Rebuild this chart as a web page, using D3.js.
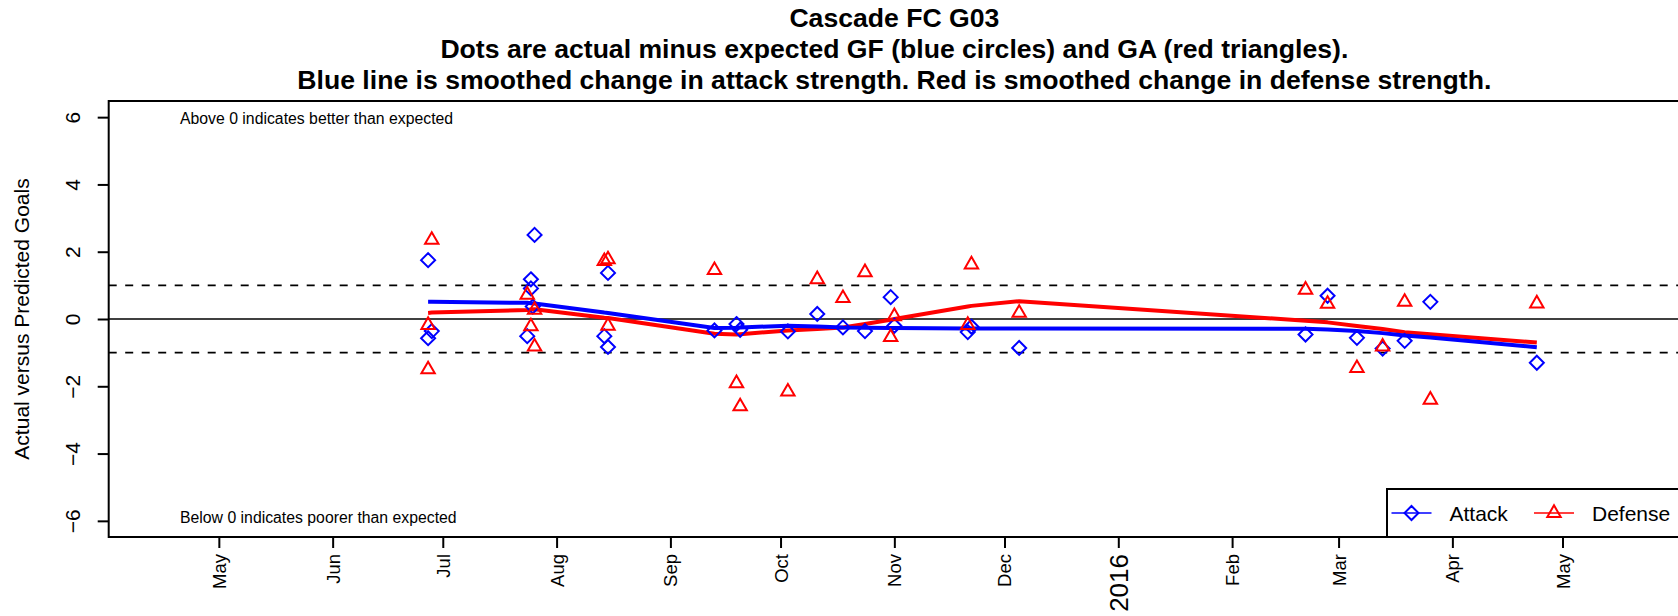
<!DOCTYPE html>
<html>
<head>
<meta charset="utf-8">
<script src="https://cdn.jsdelivr.net/npm/d3@7"></script>
<style>
  html, body { margin: 0; padding: 0; background: #fff; }
  svg { display: block; }
  text { font-family: "Liberation Sans", Arial, Helvetica, sans-serif; }
</style>
</head>
<body>
<svg id="chart" width="1678" height="616"></svg>
<script>
// ---------------- DATA ----------------
const titleLines = [
  "Cascade FC G03",
  "Dots are actual minus expected GF (blue circles) and GA (red triangles).",
  "Blue line is smoothed change in attack strength. Red is smoothed change in defense strength."
];
const yLabel = "Actual versus Predicted Goals";
const yTicks = [-6, -4, -2, 0, 2, 4, 6];
const xLimits = ["2015-04-01", "2016-06-02"];
const monthTicks = ["2015-05-01","2015-06-01","2015-07-01","2015-08-01","2015-09-01","2015-10-01",
  "2015-11-01","2015-12-01","2016-01-01","2016-02-01","2016-03-01","2016-04-01","2016-05-01"];
const monthLabels = ["May","Jun","Jul","Aug","Sep","Oct","Nov","Dec","2016","Feb","Mar","Apr","May"];

// attack points (actual minus expected GF)
const attackDates = ["2015-06-27","2015-06-27","2015-06-28","2015-07-24","2015-07-25","2015-07-25",
  "2015-07-25T12:00","2015-07-26","2015-08-14","2015-08-15","2015-08-15","2015-09-13","2015-09-19",
  "2015-09-20","2015-10-03","2015-10-11","2015-10-18","2015-10-24","2015-10-31","2015-11-01",
  "2015-11-21","2015-11-22","2015-12-05","2016-02-21","2016-02-27","2016-03-06","2016-03-13",
  "2016-03-19","2016-03-26","2016-04-24"];
const attackValues = [1.75,-0.57,-0.36,-0.51,1.18,0.91,0.37,2.50,-0.51,1.37,-0.83,-0.34,-0.15,
  -0.32,-0.37,0.15,-0.25,-0.36,0.65,-0.20,-0.39,-0.23,-0.86,-0.46,0.69,-0.56,-0.88,-0.65,0.51,-1.30];

// defense points (actual minus expected GA)
const defenseDates = ["2015-06-27","2015-06-27","2015-06-28","2015-07-24","2015-07-25","2015-07-26",
  "2015-07-26","2015-08-14","2015-08-15","2015-08-15","2015-09-13","2015-09-19","2015-09-20",
  "2015-10-03","2015-10-11","2015-10-18","2015-10-24","2015-10-31","2015-11-01","2015-11-21",
  "2015-11-22","2015-12-05","2016-02-21","2016-02-27","2016-03-06","2016-03-13","2016-03-19",
  "2016-03-26","2016-04-24"];
const defenseValues = [-0.18,-1.50,2.35,0.72,-0.22,0.27,-0.82,1.72,1.77,-0.20,1.45,-1.91,-2.60,
  -2.16,1.18,0.62,1.39,-0.54,0.08,-0.18,1.62,0.18,0.87,0.45,-1.46,-0.82,0.51,-2.40,0.46];

// smoothed strength lines
const smoothDates = ["2015-06-27","2015-06-28","2015-07-24","2015-07-25","2015-07-26","2015-08-14",
  "2015-08-15","2015-09-13","2015-09-19","2015-09-20","2015-10-03","2015-10-11","2015-10-18",
  "2015-10-24","2015-10-31","2015-11-01","2015-11-21","2015-11-22","2015-12-05","2016-02-21",
  "2016-02-27","2016-03-06","2016-03-13","2016-03-19","2016-03-26","2016-04-24"];
const attackSmooth = [0.51,0.51,0.48,0.47,0.46,0.19,0.18,-0.27,-0.26,-0.25,-0.20,-0.22,-0.25,
  -0.26,-0.27,-0.27,-0.28,-0.28,-0.28,-0.29,-0.31,-0.36,-0.42,-0.49,-0.55,-0.84];
const defenseSmooth = [0.18,0.19,0.27,0.28,0.29,0.04,0.03,-0.44,-0.46,-0.45,-0.34,-0.30,-0.25,
  -0.15,-0.02,0.00,0.37,0.39,0.53,-0.05,-0.10,-0.21,-0.30,-0.39,-0.45,-0.70];

const refLines = [{v: 0, dash: null}, {v: 1, dash: "8,8.5"}, {v: -1, dash: "8,8.5"}];
const noteTop = "Above 0 indicates better than expected";
const noteBottom = "Below 0 indicates poorer than expected";
const legendItems = [{name: "Attack", color: "#0000FF", shape: "diamond"},
                     {name: "Defense", color: "#FF0000", shape: "triangle"}];

// ---------------- LAYOUT ----------------
const W = 1678, H = 616;
const plot = {left: 108.7, right: 1680, top: 101, bottom: 537};
const parse = s => s.length > 10 ? d3.timeParse("%Y-%m-%dT%H:%M")(s) : d3.timeParse("%Y-%m-%d")(s);

const x = d3.scaleTime().domain(xLimits.map(parse)).range([plot.left, plot.right]);
const y = d3.scaleLinear().domain([-6.48, 6.48]).range([plot.bottom, plot.top]);

const svg = d3.select("#chart");
svg.append("rect").attr("width", W).attr("height", H).attr("fill", "#fff");

// title
svg.append("g").selectAll("text").data(titleLines).join("text")
  .attr("x", (plot.left + plot.right) / 2)
  .attr("y", (d, i) => 27 + i * 31)
  .attr("text-anchor", "middle")
  .attr("font-weight", "bold")
  .attr("font-size", 26.6)
  .text(d => d);

// clip
svg.append("clipPath").attr("id", "clip").append("rect")
  .attr("x", plot.left).attr("y", plot.top)
  .attr("width", plot.right - plot.left).attr("height", plot.bottom - plot.top);

const g = svg.append("g").attr("clip-path", "url(#clip)");

// reference lines
g.selectAll("line.ref").data(refLines).join("line")
  .attr("class", "ref")
  .attr("x1", plot.left).attr("x2", plot.right)
  .attr("y1", d => y(d.v)).attr("y2", d => y(d.v))
  .attr("stroke", "#000")
  .attr("stroke-width", 1.6)
  .attr("stroke-dasharray", d => d.dash);

// smoothed lines
const smooth = smoothDates.map((d, i) => ({d: parse(d), a: attackSmooth[i], f: defenseSmooth[i]}));
const lineA = d3.line().x(d => x(d.d)).y(d => y(d.a));
const lineF = d3.line().x(d => x(d.d)).y(d => y(d.f));
g.append("path").datum(smooth).attr("d", lineF)
  .attr("fill", "none").attr("stroke", "#FF0000").attr("stroke-width", 4).attr("stroke-linejoin", "round");
g.append("path").datum(smooth).attr("d", lineA)
  .attr("fill", "none").attr("stroke", "#0000FF").attr("stroke-width", 4).attr("stroke-linejoin", "round");

// markers
const diamond = "M0,-7L7,0L0,7L-7,0Z";
const triangle = "M0,-7.7L6.7,3.9L-6.7,3.9Z";
const attackPts = attackDates.map((d, i) => ({d: parse(d), v: attackValues[i]}));
const defensePts = defenseDates.map((d, i) => ({d: parse(d), v: defenseValues[i]}));

g.selectAll("path.att").data(attackPts).join("path")
  .attr("class", "att")
  .attr("d", diamond)
  .attr("transform", d => `translate(${x(d.d)},${y(d.v)})`)
  .attr("fill", "none").attr("stroke", "#0000FF").attr("stroke-width", 2);

g.selectAll("path.def").data(defensePts).join("path")
  .attr("class", "def")
  .attr("d", triangle)
  .attr("transform", d => `translate(${x(d.d)},${y(d.v)})`)
  .attr("fill", "none").attr("stroke", "#FF0000").attr("stroke-width", 2);

// notes
svg.append("text").attr("x", 180).attr("y", 124).attr("font-size", 15.8).text(noteTop);
svg.append("text").attr("x", 180).attr("y", 523).attr("font-size", 15.8).text(noteBottom);

// x axis
const xAxis = d3.axisBottom(x)
  .tickValues(monthTicks.map(parse))
  .tickFormat((d, i) => monthLabels[i])
  .tickSize(11).tickSizeOuter(0);
const gx = svg.append("g").attr("transform", `translate(0,${plot.bottom})`).call(xAxis);
gx.select(".domain").remove();
gx.selectAll(".tick line").attr("stroke", "#000").attr("stroke-width", 2);
gx.selectAll(".tick text")
  .attr("transform", "rotate(-90)")
  .attr("x", -17).attr("y", 0).attr("dy", "0.35em")
  .attr("text-anchor", "end")
  .attr("fill", "#000")
  .attr("font-family", "'Liberation Sans', Arial, sans-serif")
  .attr("font-size", (d, i) => monthLabels[i] === "2016" ? 26 : 18.5);

// y axis
const yAxis = d3.axisLeft(y).tickValues(yTicks).tickFormat(d => d < 0 ? "\u2212" + Math.abs(d) : d)
  .tickSize(11).tickSizeOuter(0);
const gy = svg.append("g").attr("transform", `translate(${plot.left},0)`).call(yAxis);
gy.select(".domain").remove();
gy.selectAll(".tick line").attr("stroke", "#000").attr("stroke-width", 2);
gy.selectAll(".tick text")
  .attr("transform", "translate(-29,0) rotate(-90)")
  .attr("x", 0).attr("dy", 0)
  .attr("text-anchor", "middle")
  .attr("fill", "#000")
  .attr("font-family", "'Liberation Sans', Arial, sans-serif")
  .attr("font-size", 21);

// y label
svg.append("text")
  .attr("transform", `translate(29.3,${(plot.top + plot.bottom) / 2}) rotate(-90)`)
  .attr("text-anchor", "middle").attr("font-size", 21).text(yLabel);

// plot box
svg.append("rect")
  .attr("x", plot.left).attr("y", plot.top)
  .attr("width", plot.right - plot.left).attr("height", plot.bottom - plot.top)
  .attr("fill", "none").attr("stroke", "#000").attr("stroke-width", 2);

// legend
const lg = svg.append("g");
const legTop = 489, legLeft = 1387;
lg.append("rect").attr("x", legLeft).attr("y", legTop)
  .attr("width", plot.right - legLeft).attr("height", plot.bottom - legTop)
  .attr("fill", "#fff").attr("stroke", "#000").attr("stroke-width", 2);
const legY = (legTop + plot.bottom) / 2;
const legX = [1391.5, 1534];
legendItems.forEach((it, i) => {
  const x0 = legX[i];
  lg.append("line").attr("x1", x0).attr("x2", x0 + 40).attr("y1", legY).attr("y2", legY)
    .attr("stroke", it.color).attr("stroke-width", 1.5);
  lg.append("path").attr("d", it.shape === "diamond" ? diamond : triangle)
    .attr("transform", `translate(${x0 + 20},${legY})`)
    .attr("fill", "none").attr("stroke", it.color).attr("stroke-width", 2);
  lg.append("text").attr("x", x0 + 58).attr("y", legY).attr("dy", "0.36em")
    .attr("font-size", 21).text(it.name);
});
</script>
</body>
</html>
